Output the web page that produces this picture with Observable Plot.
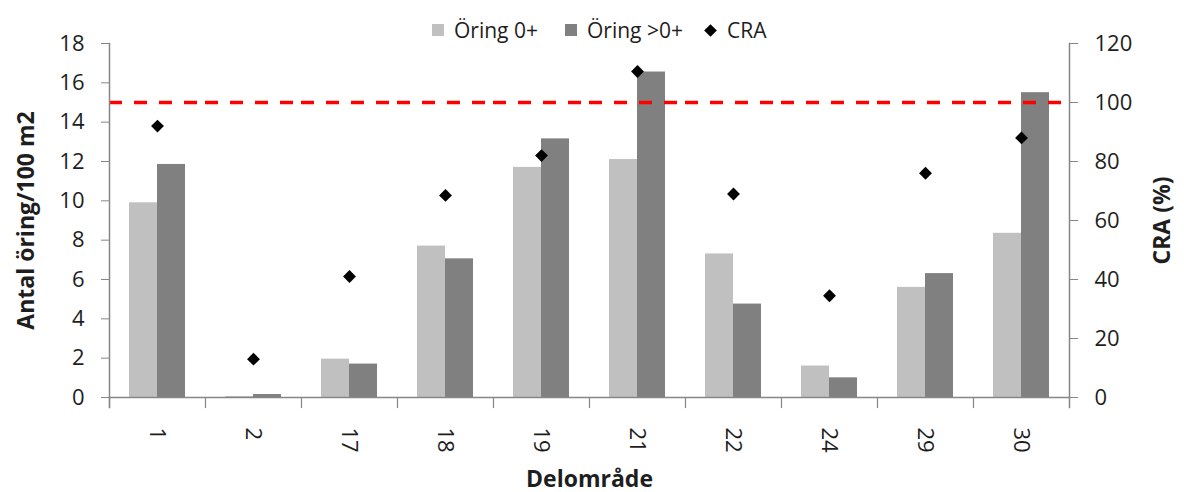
<!DOCTYPE html>
<html>
<head>
<meta charset="utf-8">
<script src="https://cdn.jsdelivr.net/npm/d3@7"></script>
<script src="https://cdn.jsdelivr.net/npm/@observablehq/plot@0.6"></script>
<style>
  body { margin: 0; background: #fff; font-family: "Open Sans", sans-serif; }
  #wrap { position: relative; width: 1184px; height: 492px; }
  #legend { position: absolute; top: 0; left: 0; width: 1184px; height: 0; }
  .item { position: absolute; top: 16px; height: 28px; display: flex; align-items: center; font-size: 21px; color: #1e1e1e; white-space: nowrap; }
  .sw { width: 12px; height: 12px; margin-right: 10px; }
  .dia { width: 9px; height: 9px; background: #000; transform: rotate(45deg); margin: 0 12px 0 2px; }
  svg [aria-label$="axis label"] text, svg [aria-label$="axis label"] { font-weight: bold; font-size: 23px; }
</style>
</head>
<body>
<div id="wrap"><div id="legend"></div></div>
<script>
// Delområden (sub-areas) along the x axis
const delomraden = ["1", "2", "17", "18", "19", "21", "22", "24", "29", "30"];
// Trout density per 100 m2, young-of-the-year and older
const oring0 = [9.9, 0.05, 1.95, 7.7, 11.7, 12.1, 7.3, 1.6, 5.6, 8.35];
const oringOver0 = [11.85, 0.15, 1.7, 7.05, 13.15, 16.55, 4.75, 1.0, 6.3, 15.5];
// CRA in percent (right axis)
const cra = [92, 13, 41, 68.5, 82, 110.5, 69, 34.5, 76, 88];
const craLimit = 100;

const series = ["Öring 0+", "Öring >0+"];
const seriesColors = ["#c0c0c0", "#808080"];
const leftTicks = [0, 2, 4, 6, 8, 10, 12, 14, 16, 18];
const rightTicks = [0, 20, 40, 60, 80, 100, 120];

// CRA is plotted on the shared y scale: 120 % on the right equals 18 on the left
const craScale = 18 / 120;

const bars = delomraden.flatMap((omrade, i) => [
  {omrade, serie: series[0], antal: oring0[i]},
  {omrade, serie: series[1], antal: oringOver0[i]}
]);
const craRows = delomraden.map((omrade, i) => ({omrade, cra: cra[i]}));

const axisStyle = {stroke: "#868686", fill: "#1e1e1e", tickSize: 8, tickPadding: 17, fontSize: 22};

const plot = Plot.plot({
  width: 1184,
  height: 492,
  marginLeft: 105,
  marginRight: 112,
  marginTop: 43,
  marginBottom: 95,
  style: {fontFamily: "'Open Sans', sans-serif", fontSize: "22px", color: "#1e1e1e", background: "transparent", overflow: "visible"},
  fx: {domain: delomraden, padding: 0},
  x: {domain: series, paddingInner: 0, paddingOuter: 0.667, axis: null},
  y: {domain: [0, 18]},
  color: {domain: series, range: seriesColors},
  marks: [
    Plot.barY(bars, {fx: "omrade", x: "serie", y: "antal", fill: "serie"}),
    Plot.ruleY([0], {stroke: "#868686", strokeWidth: 1.5}),
    Plot.ruleY([craLimit * craScale], {stroke: "#ff0000", strokeWidth: 3.5, strokeDasharray: "13,12"}),
    Plot.dot(craRows, {fx: "omrade", y: d => d.cra * craScale, symbol: "diamond2", r: 5.8, fill: "#000", stroke: null}),
    // short ticks between the sub-areas
    Plot.frame({anchor: "left", insetTop: 354, insetBottom: -10, stroke: "#868686", strokeWidth: 1.2}),
    // axis lines on both sides
    Plot.frame({anchor: "left", facetAnchor: "left", insetBottom: -10, stroke: "#868686", strokeWidth: 1.5}),
    Plot.frame({anchor: "right", facetAnchor: "right", insetBottom: -10, stroke: "#868686", strokeWidth: 1.5}),
    Plot.axisY({...axisStyle, anchor: "left", ticks: leftTicks, label: "Antal öring/100 m2", labelAnchor: "center", labelArrow: false, labelOffset: 92}),
    Plot.axisY({...axisStyle, anchor: "right", ticks: rightTicks.map(v => v * craScale), tickFormat: v => String(Math.round(v / craScale)), label: "CRA (%)", labelAnchor: "center", labelArrow: false, labelOffset: 100}),
    Plot.axisFx({anchor: "bottom", tickSize: 0, tickPadding: 30, tickRotate: 90, fontSize: 22, fill: "#1e1e1e", label: "Delområde", labelAnchor: "center", labelArrow: false, labelOffset: 89})
  ]
});
document.getElementById("wrap").appendChild(plot);

// legend above the plot area
const legend = d3.select("#legend");
const items = [
  {label: series[0], left: 432, kind: "sw", color: seriesColors[0]},
  {label: series[1], left: 565, kind: "sw", color: seriesColors[1]},
  {label: "CRA", left: 704, kind: "dia"}
];
for (const it of items) {
  const div = legend.append("div").attr("class", "item").style("left", it.left + "px");
  const mark = div.append("span").attr("class", it.kind);
  if (it.kind === "sw") mark.style("background", it.color);
  div.append("span").text(it.label);
}
</script>
</body>
</html>
